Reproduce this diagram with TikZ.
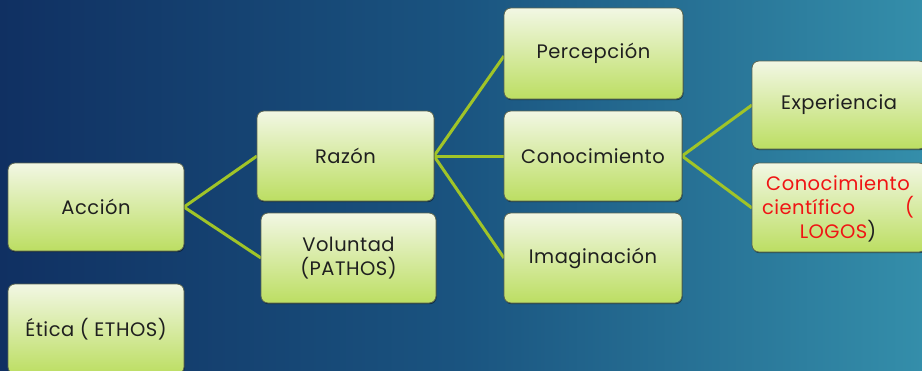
\documentclass[tikz,border=0pt]{standalone}
\usepackage{fontspec}
\setmainfont{Poppins}[LetterSpace=2.5]
\usetikzlibrary{shadows}
\definecolor{bgleft}{RGB}{16,48,98}
\definecolor{bgmid}{RGB}{26,84,128}
\definecolor{bgright}{RGB}{52,142,170}
\definecolor{boxtop}{RGB}{242,247,228}
\definecolor{boxbot}{RGB}{188,222,98}
\definecolor{boxedge}{RGB}{90,100,80}
\definecolor{linkgreen}{RGB}{160,196,40}
\definecolor{logored}{RGB}{240,20,20}
\tikzset{
  px/.style={x=1pt,y=-1pt},
  card/.style={draw=boxedge,line width=0.8pt,rounded corners=7pt,
    top color=boxtop,bottom color=boxbot,
    drop shadow={shadow xshift=0.6pt,shadow yshift=-1.2pt,opacity=0.45,fill=black}},
  cardtext/.style={font=\fontsize{19.5}{24}\selectfont,align=center,text=black!88},
  link/.style={draw=linkgreen,line width=3pt}
}
\newcommand{\card}[6]{%
  % #1 name, #2 x0, #3 y0, #4 x1, #5 y1, #6 text
  \path[card] (#2,#3) rectangle (#4,#5);
  \node[cardtext] (#1) at ({(#2+#4)/2},{(#3+#5)/2}) {#6};
}
\begin{document}
\begin{tikzpicture}[px]
\useasboundingbox (0,0) rectangle (922,370);
\shade[left color=bgleft,right color=bgright,middle color=bgmid] (0,0) rectangle (922,370);

% connectors, drawn first so the cards sit on top
\coordinate (accion-e) at (184,207);
\coordinate (razon-w) at (257,156);
\coordinate (razon-e) at (434,156);
\coordinate (voluntad-w) at (261,258);
\coordinate (percepcion-w) at (504,56);
\coordinate (conoc-w) at (504,156);
\coordinate (conoc-e) at (682,156);
\coordinate (imag-w) at (504,258);
\coordinate (exper-w) at (752,105);
\coordinate (cientif-w) at (752,208);
\draw[link] (razon-w) -- (accion-e) -- (voluntad-w);
\draw[link] (percepcion-w) -- (razon-e) -- (imag-w);
\draw[link] (razon-e) -- (conoc-w);
\draw[link] (exper-w) -- (conoc-e) -- (cientif-w);

\card{accion}{8}{163}{184}{251}{Acción}
\card{etica}{8}{284}{184}{374}{Ética ( ETHOS)}
\card{razon}{257}{111}{434}{201}{Razón}
\card{voluntad}{261}{213}{436}{303}{Voluntad\\(PATHOS)}
\card{percepcion}{504}{8}{683}{99}{Percepción}
\card{conoc}{504}{111}{682}{201}{Conocimiento}
\card{imag}{504}{213}{682}{303}{Imaginación}
\card{exper}{752}{61}{926}{149}{Experiencia}
\path[card] (752,163) rectangle (926,252);
\node[cardtext,align=left,text=logored] (cientif) at (838,209)
  {\parbox{152pt}{\centering Conocimiento\\
   científico\hfill(\\
   \centering LOGOS\textcolor{black!88}{)}}};
\end{tikzpicture}
\end{document}
